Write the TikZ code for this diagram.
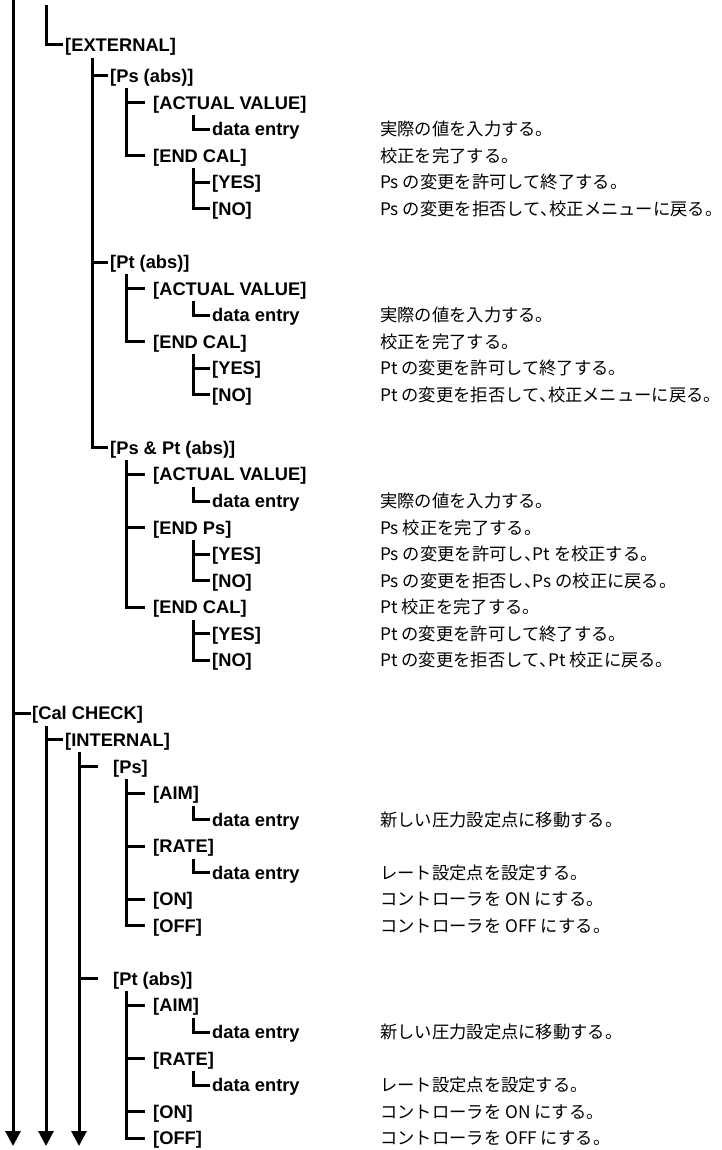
\documentclass[tikz,border=0pt]{standalone}
\usepackage{fontspec}
\setmainfont{Liberation Sans}
\newfontfamily\jpfont{Noto Sans CJK JP}
\newcommand\jpcomma{\makebox[0.5em][l]{、}}
\usetikzlibrary{arrows.meta}
\tikzset{
  lbl/.style={anchor=west, inner sep=0pt, text height=13pt, text depth=0pt,
    font=\fontsize{18.3}{20}\selectfont\bfseries},
  desc/.style={anchor=west, inner sep=0pt, text height=13pt, text depth=0pt,
    font=\fontsize{17.3}{20}\selectfont\jpfont},
  tree/.style={line width=3pt, line join=miter, line cap=butt},
  flow/.style={line width=3pt, line cap=butt, -{Triangle[width=15pt,length=15pt]}},
}
\begin{document}
\begin{tikzpicture}[x=1pt,y=1pt]
\useasboundingbox (0,0) rectangle (722,-1150);

% ---------- EXTERNAL branch ----------
\node[lbl] (ext) at (65,-45) {[EXTERNAL]};
\node[lbl] (psabs) at (110,-76) {[Ps (abs)]};
\node[lbl] (av1) at (153,-102.7) {[ACTUAL VALUE]};
\node[lbl] (de1) at (212,-129.3) {data entry};
\node[lbl] (ec1) at (153,-155.8) {[END CAL]};
\node[lbl] (y1) at (212,-182.4) {[YES]};
\node[lbl] (n1) at (212,-208.9) {[NO]};

\node[lbl] (ptabs) at (110,-262) {[Pt (abs)]};
\node[lbl] (av2) at (153,-288.6) {[ACTUAL VALUE]};
\node[lbl] (de2) at (212,-315.1) {data entry};
\node[lbl] (ec2) at (153,-341.7) {[END CAL]};
\node[lbl] (y2) at (212,-368.2) {[YES]};
\node[lbl] (n2) at (212,-394.8) {[NO]};

\node[lbl] (pspt) at (110,-447.9) {[Ps \& Pt (abs)]};
\node[lbl] (av3) at (153,-474.4) {[ACTUAL VALUE]};
\node[lbl] (de3) at (212,-501) {data entry};
\node[lbl] (ep3) at (153,-527.5) {[END Ps]};
\node[lbl] (y3) at (212,-554) {[YES]};
\node[lbl] (n3) at (212,-580.6) {[NO]};
\node[lbl] (ec3) at (153,-607.2) {[END CAL]};
\node[lbl] (y4) at (212,-633.7) {[YES]};
\node[lbl] (n4) at (212,-660.3) {[NO]};

% ---------- Cal CHECK branch ----------
\node[lbl] (cal) at (32,-713.4) {[Cal CHECK]};
\node[lbl] (int) at (65,-739.9) {[INTERNAL]};
\node[lbl] (ps4) at (113,-766.5) {[Ps]};
\node[lbl] (aim1) at (153,-793) {[AIM]};
\node[lbl] (de4) at (212,-819.6) {data entry};
\node[lbl] (rate1) at (153,-846.1) {[RATE]};
\node[lbl] (de5) at (212,-872.7) {data entry};
\node[lbl] (on1) at (153,-899.2) {[ON]};
\node[lbl] (off1) at (153,-925.8) {[OFF]};

\node[lbl] (pt4) at (113,-978.9) {[Pt (abs)]};
\node[lbl] (aim2) at (153,-1005.4) {[AIM]};
\node[lbl] (de6) at (212,-1032) {data entry};
\node[lbl] (rate2) at (153,-1058.5) {[RATE]};
\node[lbl] (de7) at (212,-1085.1) {data entry};
\node[lbl] (on2) at (153,-1111.6) {[ON]};
\node[lbl] (off2) at (153,-1138.2) {[OFF]};

% ---------- descriptions ----------
\node[desc] (t1) at (380,-129.3) {実際の値を入力する。};
\node[desc] (t2) at (380,-155.8) {校正を完了する。};
\node[desc] (t3) at (380,-182.4) {Ps の変更を許可して終了する。};
\node[desc] (t4) at (380,-208.9) {Ps の変更を拒否して\jpcomma 校正メニューに戻る。};
\node[desc] (t5) at (380,-315.1) {実際の値を入力する。};
\node[desc] (t6) at (380,-341.7) {校正を完了する。};
\node[desc] (t7) at (380,-368.2) {Pt の変更を許可して終了する。};
\node[desc] (t8) at (380,-394.8) {Pt の変更を拒否して\jpcomma 校正メニューに戻る。};
\node[desc] (t9) at (380,-501) {実際の値を入力する。};
\node[desc] (t10) at (380,-527.5) {Ps 校正を完了する。};
\node[desc] (t11) at (380,-554) {Ps の変更を許可し\jpcomma Pt を校正する。};
\node[desc] (t12) at (380,-580.6) {Ps の変更を拒否し\jpcomma Ps の校正に戻る。};
\node[desc] (t13) at (380,-607.2) {Pt 校正を完了する。};
\node[desc] (t14) at (380,-633.7) {Pt の変更を許可して終了する。};
\node[desc] (t15) at (380,-660.3) {Pt の変更を拒否して\jpcomma Pt 校正に戻る。};
\node[desc] (t16) at (380,-819.6) {新しい圧力設定点に移動する。};
\node[desc] (t17) at (380,-872.7) {レート設定点を設定する。};
\node[desc] (t18) at (380,-899.2) {コントローラを ON にする。};
\node[desc] (t19) at (380,-925.8) {コントローラを OFF にする。};
\node[desc] (t20) at (380,-1032) {新しい圧力設定点に移動する。};
\node[desc] (t21) at (380,-1085.1) {レート設定点を設定する。};
\node[desc] (t22) at (380,-1111.6) {コントローラを ON にする。};
\node[desc] (t23) at (380,-1138.2) {コントローラを OFF にする。};

% ---------- connectors: long arrows ----------
\coordinate (aT) at (13,0);
\coordinate (aB) at (13,-1146);
\draw[flow] (aT) -- (aB);
\draw[tree] (aT |- cal.west) -- ([xshift=-1pt]cal.west);

\coordinate (bT2) at (46,-726);
\coordinate (bB) at (46,-1146);
\draw[flow] (bT2) -- (bB);
\draw[tree] (bT2 |- int.west) -- ([xshift=-2pt]int.west);

\coordinate (cT2) at (79,-752);
\coordinate (cB) at (79,-1146);
\draw[flow] (cT2) -- (cB);
\draw[tree] (cT2 |- ps4.west) -- ([xshift=-15pt]ps4.west);
\draw[tree] (cT2 |- pt4.west) -- ([xshift=-15pt]pt4.west);

% ---------- EXTERNAL tree ----------
\coordinate (bT) at (46,-5);
\draw[tree] (bT) |- ([xshift=-2pt]ext.west);
\coordinate (cT) at (92,-58);
\draw[tree] (cT) |- ([xshift=-2pt]pspt.west);
\draw[tree] (cT |- psabs.west) -- ([xshift=-2pt]psabs.west);
\draw[tree] (cT |- ptabs.west) -- ([xshift=-2pt]ptabs.west);

\coordinate (d1) at (126,-88);
\draw[tree] (d1) |- ([xshift=-8pt]ec1.west);
\draw[tree] (d1 |- av1.west) -- ([xshift=-8pt]av1.west);
\coordinate (e1) at (193,-115);
\draw[tree] (e1) |- ([xshift=-2pt]de1.west);
\coordinate (e2) at (193,-168);
\draw[tree] (e2) |- ([xshift=-2pt]n1.west);
\draw[tree] (e2 |- y1.west) -- ([xshift=-2pt]y1.west);

\coordinate (d2) at (126,-274);
\draw[tree] (d2) |- ([xshift=-8pt]ec2.west);
\draw[tree] (d2 |- av2.west) -- ([xshift=-8pt]av2.west);
\coordinate (e3) at (193,-301);
\draw[tree] (e3) |- ([xshift=-2pt]de2.west);
\coordinate (e4) at (193,-354);
\draw[tree] (e4) |- ([xshift=-2pt]n2.west);
\draw[tree] (e4 |- y2.west) -- ([xshift=-2pt]y2.west);

\coordinate (d3) at (126,-460);
\draw[tree] (d3) |- ([xshift=-8pt]ec3.west);
\draw[tree] (d3 |- av3.west) -- ([xshift=-8pt]av3.west);
\draw[tree] (d3 |- ep3.west) -- ([xshift=-8pt]ep3.west);
\coordinate (e5) at (193,-487);
\draw[tree] (e5) |- ([xshift=-2pt]de3.west);
\coordinate (e6) at (193,-540);
\draw[tree] (e6) |- ([xshift=-2pt]n3.west);
\draw[tree] (e6 |- y3.west) -- ([xshift=-2pt]y3.west);
\coordinate (e7) at (193,-620);
\draw[tree] (e7) |- ([xshift=-2pt]n4.west);
\draw[tree] (e7 |- y4.west) -- ([xshift=-2pt]y4.west);

% ---------- Cal CHECK tree ----------
\coordinate (d4) at (126,-779);
\draw[tree] (d4) |- ([xshift=-8pt]off1.west);
\draw[tree] (d4 |- aim1.west) -- ([xshift=-8pt]aim1.west);
\draw[tree] (d4 |- rate1.west) -- ([xshift=-8pt]rate1.west);
\draw[tree] (d4 |- on1.west) -- ([xshift=-8pt]on1.west);
\coordinate (e8) at (193,-806);
\draw[tree] (e8) |- ([xshift=-2pt]de4.west);
\coordinate (e9) at (193,-859);
\draw[tree] (e9) |- ([xshift=-2pt]de5.west);

\coordinate (d5) at (126,-991);
\draw[tree] (d5) |- ([xshift=-8pt]off2.west);
\draw[tree] (d5 |- aim2.west) -- ([xshift=-8pt]aim2.west);
\draw[tree] (d5 |- rate2.west) -- ([xshift=-8pt]rate2.west);
\draw[tree] (d5 |- on2.west) -- ([xshift=-8pt]on2.west);
\coordinate (e10) at (193,-1018);
\draw[tree] (e10) |- ([xshift=-2pt]de6.west);
\coordinate (e11) at (193,-1071);
\draw[tree] (e11) |- ([xshift=-2pt]de7.west);
\end{tikzpicture}
\end{document}
